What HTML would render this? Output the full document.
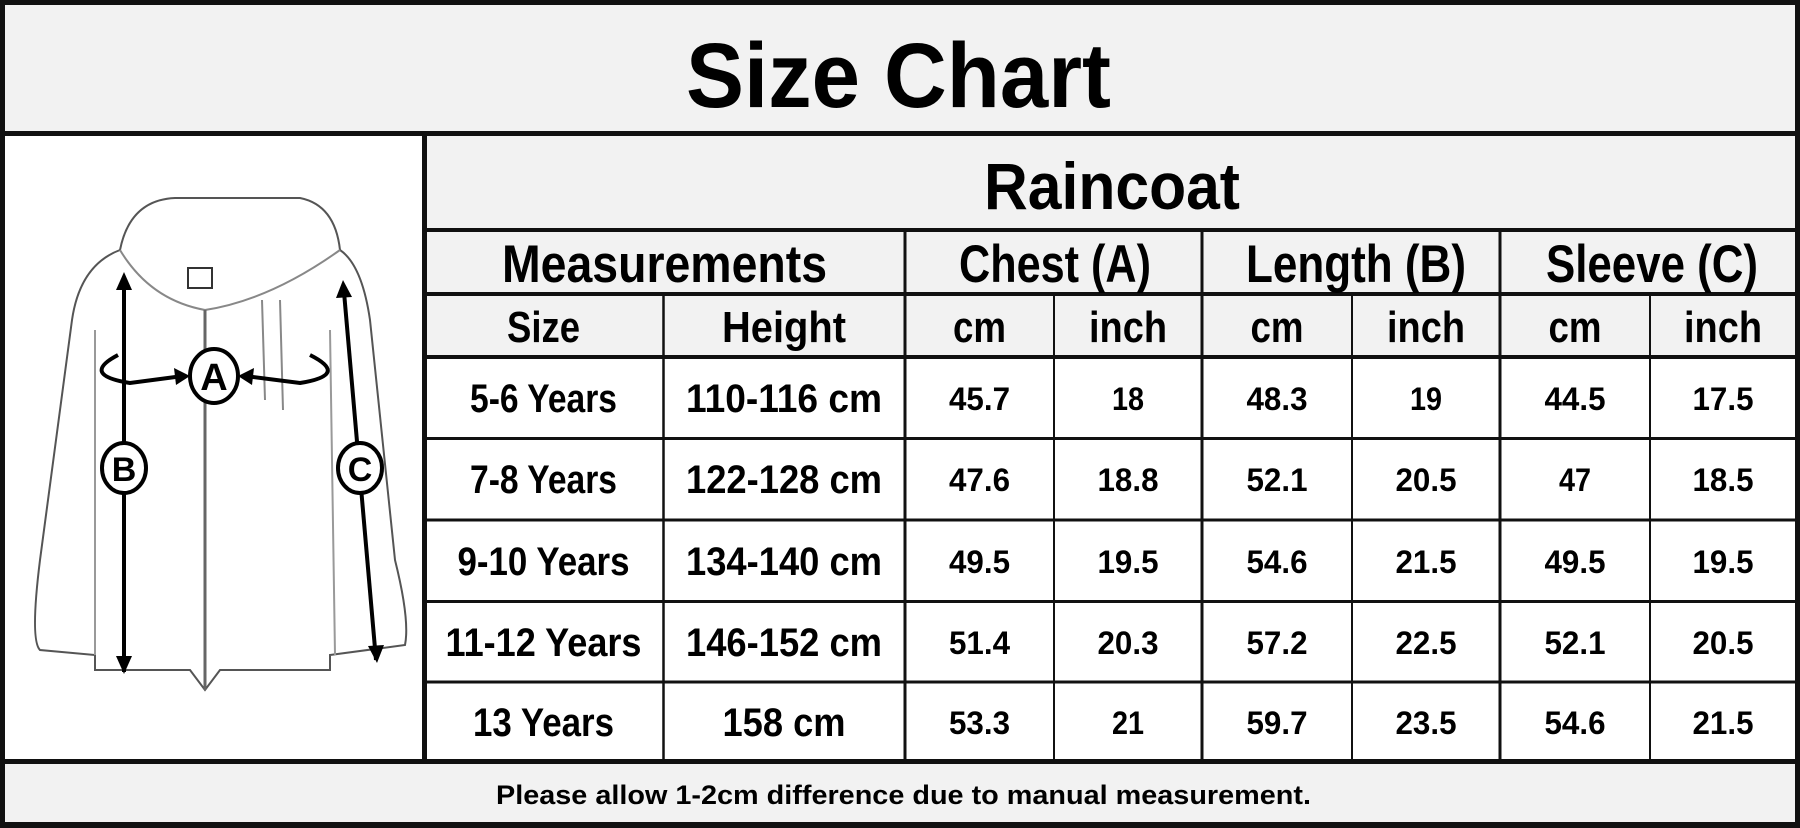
<!DOCTYPE html>
<html><head><meta charset="utf-8"><style>
html,body{margin:0;padding:0;background:#fff}
svg{display:block}
text{font-family:"Liberation Sans",Arial,sans-serif;font-weight:bold;fill:#000}
</style></head><body>
<svg width="1800" height="828" viewBox="0 0 1800 828" xmlns="http://www.w3.org/2000/svg">
<rect x="0" y="0" width="1800" height="828" fill="#111"/>
<rect x="5" y="5" width="1790" height="126" fill="#f2f2f2"/>
<rect x="5" y="136" width="417" height="623" fill="#fff"/>
<rect x="427" y="136" width="1368" height="221" fill="#f2f2f2"/>
<rect x="427" y="359" width="1368" height="400" fill="#fff"/>
<rect x="5" y="764" width="1790" height="58" fill="#f2f2f2"/>
<!-- grid lines -->
<g stroke="#111">
<line x1="427" y1="230" x2="1795" y2="230" stroke-width="4"/>
<line x1="427" y1="294" x2="1795" y2="294" stroke-width="4"/>
<line x1="427" y1="357" x2="1795" y2="357" stroke-width="4"/>
<line x1="427" y1="438.5" x2="1795" y2="438.5" stroke-width="3"/>
<line x1="427" y1="520" x2="1795" y2="520" stroke-width="3"/>
<line x1="427" y1="601.5" x2="1795" y2="601.5" stroke-width="3"/>
<line x1="427" y1="682" x2="1795" y2="682" stroke-width="3"/>
<line x1="905" y1="230" x2="905" y2="761" stroke-width="3"/>
<line x1="1202" y1="230" x2="1202" y2="761" stroke-width="3"/>
<line x1="1500" y1="230" x2="1500" y2="761" stroke-width="3"/>
<line x1="663.5" y1="294" x2="663.5" y2="761" stroke-width="2.5"/>
<line x1="1054" y1="294" x2="1054" y2="761" stroke-width="2"/>
<line x1="1352" y1="294" x2="1352" y2="761" stroke-width="2"/>
<line x1="1650" y1="294" x2="1650" y2="761" stroke-width="2"/>
</g>
<!-- jacket sketch -->
<g fill="none" stroke="#555" stroke-width="2">
<path d="M120 250 Q130 200 175 198 L300 198 Q335 205 340 250"/>
<path d="M120 250 Q80 265 72 320 L40 560 Q30 640 40 650 L95 655 L95 670 L190 670 L205 690 L220 670 L330 670 L330 655 L405 645 Q410 620 395 560 L370 320 Q362 265 340 250"/>
<path d="M120 250 Q150 300 205 310 Q270 300 340 250" stroke="#888"/>
<path d="M205 310 L205 690" stroke="#666" stroke-width="3"/>
<path d="M95 330 L95 655 M330 330 L335 655" stroke="#999"/>
<path d="M262 300 L265 400 M280 300 L283 410" stroke="#888"/>
<rect x="188" y="268" width="24" height="20" stroke="#333"/>
</g>
<g stroke="#000" stroke-width="4" fill="none">
<path d="M118 355 Q80 375 130 383 L183 376"/>
<path d="M310 355 Q350 375 300 383 L245 376"/>
<line x1="124" y1="285" x2="124" y2="672"/>
<line x1="344" y1="292" x2="376" y2="660"/>
</g>
<g fill="#000">
<polygon points="124,272 116,290 132,290"/>
<polygon points="124,674 116,656 132,656"/>
<polygon points="343,280 336,298 352,297"/>
<polygon points="377,663 368,646 384,645"/>
<polygon points="190,376 174,368 176,385"/>
<polygon points="238,376 254,368 252,385"/>
</g>
<g stroke="#000" stroke-width="4" fill="#fff">
<ellipse cx="214" cy="376" rx="24" ry="27"/>
<ellipse cx="124" cy="468" rx="22" ry="25"/>
<ellipse cx="360" cy="468" rx="22" ry="25"/>
</g>
<text x="214" y="390" font-size="38" text-anchor="middle">A</text>
<text x="124" y="481" font-size="34" text-anchor="middle">B</text>
<text x="360" y="481" font-size="34" text-anchor="middle">C</text>
<!-- headings -->
<text x="686" y="107" font-size="92" textLength="425" lengthAdjust="spacingAndGlyphs">Size Chart</text>
<text x="984" y="209" font-size="66" textLength="256" lengthAdjust="spacingAndGlyphs">Raincoat</text>
<text x="502" y="282" font-size="53" textLength="325" lengthAdjust="spacingAndGlyphs">Measurements</text>
<text x="959" y="282" font-size="53" textLength="192" lengthAdjust="spacingAndGlyphs">Chest (A)</text>
<text x="1246" y="282" font-size="53" textLength="220" lengthAdjust="spacingAndGlyphs">Length (B)</text>
<text x="1546" y="282" font-size="53" textLength="212" lengthAdjust="spacingAndGlyphs">Sleeve (C)</text>
<g font-size="44" text-anchor="middle">
<text x="543.5" y="342" textLength="73" lengthAdjust="spacingAndGlyphs">Size</text>
<text x="784" y="342" textLength="124" lengthAdjust="spacingAndGlyphs">Height</text>
<text x="979.5" y="342" textLength="53" lengthAdjust="spacingAndGlyphs">cm</text>
<text x="1128" y="342" textLength="78" lengthAdjust="spacingAndGlyphs">inch</text>
<text x="1277" y="342" textLength="53" lengthAdjust="spacingAndGlyphs">cm</text>
<text x="1426" y="342" textLength="78" lengthAdjust="spacingAndGlyphs">inch</text>
<text x="1575" y="342" textLength="53" lengthAdjust="spacingAndGlyphs">cm</text>
<text x="1723" y="342" textLength="78" lengthAdjust="spacingAndGlyphs">inch</text>
</g>
<g font-size="40" text-anchor="middle" lengthAdjust="spacingAndGlyphs">
<text x="543.5" y="412" textLength="147" lengthAdjust="spacingAndGlyphs">5-6 Years</text>
<text x="543.5" y="493" textLength="147" lengthAdjust="spacingAndGlyphs">7-8 Years</text>
<text x="543.5" y="575" textLength="172" lengthAdjust="spacingAndGlyphs">9-10 Years</text>
<text x="543.5" y="656" textLength="196" lengthAdjust="spacingAndGlyphs">11-12 Years</text>
<text x="543.5" y="736" textLength="141" lengthAdjust="spacingAndGlyphs">13 Years</text>
<text x="784" y="412" textLength="196" lengthAdjust="spacingAndGlyphs">110-116 cm</text>
<text x="784" y="493" textLength="196" lengthAdjust="spacingAndGlyphs">122-128 cm</text>
<text x="784" y="575" textLength="196" lengthAdjust="spacingAndGlyphs">134-140 cm</text>
<text x="784" y="656" textLength="196" lengthAdjust="spacingAndGlyphs">146-152 cm</text>
<text x="784" y="736" textLength="123" lengthAdjust="spacingAndGlyphs">158 cm</text>
</g>
<g font-size="32" text-anchor="middle">
<text x="979.5" y="410" textLength="61" lengthAdjust="spacingAndGlyphs">45.7</text>
<text x="1128" y="410" textLength="32" lengthAdjust="spacingAndGlyphs">18</text>
<text x="1277" y="410" textLength="61" lengthAdjust="spacingAndGlyphs">48.3</text>
<text x="1426" y="410" textLength="32" lengthAdjust="spacingAndGlyphs">19</text>
<text x="1575" y="410" textLength="61" lengthAdjust="spacingAndGlyphs">44.5</text>
<text x="1723" y="410" textLength="61" lengthAdjust="spacingAndGlyphs">17.5</text>

<text x="979.5" y="491" textLength="61" lengthAdjust="spacingAndGlyphs">47.6</text>
<text x="1128" y="491" textLength="61" lengthAdjust="spacingAndGlyphs">18.8</text>
<text x="1277" y="491" textLength="61" lengthAdjust="spacingAndGlyphs">52.1</text>
<text x="1426" y="491" textLength="61" lengthAdjust="spacingAndGlyphs">20.5</text>
<text x="1575" y="491" textLength="32" lengthAdjust="spacingAndGlyphs">47</text>
<text x="1723" y="491" textLength="61" lengthAdjust="spacingAndGlyphs">18.5</text>

<text x="979.5" y="573" textLength="61" lengthAdjust="spacingAndGlyphs">49.5</text>
<text x="1128" y="573" textLength="61" lengthAdjust="spacingAndGlyphs">19.5</text>
<text x="1277" y="573" textLength="61" lengthAdjust="spacingAndGlyphs">54.6</text>
<text x="1426" y="573" textLength="61" lengthAdjust="spacingAndGlyphs">21.5</text>
<text x="1575" y="573" textLength="61" lengthAdjust="spacingAndGlyphs">49.5</text>
<text x="1723" y="573" textLength="61" lengthAdjust="spacingAndGlyphs">19.5</text>

<text x="979.5" y="654" textLength="61" lengthAdjust="spacingAndGlyphs">51.4</text>
<text x="1128" y="654" textLength="61" lengthAdjust="spacingAndGlyphs">20.3</text>
<text x="1277" y="654" textLength="61" lengthAdjust="spacingAndGlyphs">57.2</text>
<text x="1426" y="654" textLength="61" lengthAdjust="spacingAndGlyphs">22.5</text>
<text x="1575" y="654" textLength="61" lengthAdjust="spacingAndGlyphs">52.1</text>
<text x="1723" y="654" textLength="61" lengthAdjust="spacingAndGlyphs">20.5</text>

<text x="979.5" y="734" textLength="61" lengthAdjust="spacingAndGlyphs">53.3</text>
<text x="1128" y="734" textLength="32" lengthAdjust="spacingAndGlyphs">21</text>
<text x="1277" y="734" textLength="61" lengthAdjust="spacingAndGlyphs">59.7</text>
<text x="1426" y="734" textLength="61" lengthAdjust="spacingAndGlyphs">23.5</text>
<text x="1575" y="734" textLength="61" lengthAdjust="spacingAndGlyphs">54.6</text>
<text x="1723" y="734" textLength="61" lengthAdjust="spacingAndGlyphs">21.5</text>
</g>
<text x="496" y="804" font-size="27" textLength="815" lengthAdjust="spacingAndGlyphs">Please allow 1-2cm difference due to manual measurement.</text>
</svg>
</body></html>
